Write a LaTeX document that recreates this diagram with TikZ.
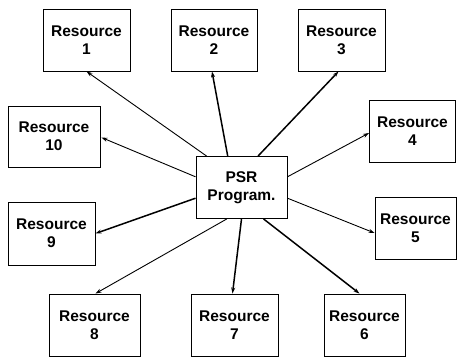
\documentclass[tikz,border=0pt]{standalone}
\usepackage{fontspec}
\setmainfont{Liberation Sans}
\usetikzlibrary{calc,arrows.meta}
\begin{document}
\begin{tikzpicture}[x=1pt,y=-1pt,
  res/.style={draw=black,line width=0.9pt,align=center,inner sep=0pt,
    font=\fontsize{15.5}{18}\selectfont\bfseries,minimum height=62pt},
  thin/.style={line width=0.9pt,-{Stealth[length=6pt,width=4pt]}},
  thick/.style={line width=1.5pt,-{Stealth[length=6pt,width=4pt]}}]
\useasboundingbox (0,0) rectangle (457,356);
\clip (0,0) rectangle (457,356);
\node[res,minimum width=87pt] (r1) at (86.5,40) {Resource\\1};
\node[res,minimum width=86pt] (r2) at (214,40) {Resource\\2};
\node[res,minimum width=87pt] (r3) at (341.5,40) {Resource\\3};
\node[res,minimum width=92pt,minimum height=61pt] (r10) at (54,136.5) {Resource\\10};
\node[res,minimum width=86pt] (r4) at (412.5,131) {Resource\\4};
\node[res,minimum width=91pt,minimum height=62pt] (psr) at (241.5,187.5) {PSR\\Program.};
\node[res,minimum width=87pt,minimum height=63pt] (r9) at (51.5,233.5) {Resource\\9};
\node[res,minimum width=81pt] (r5) at (415.5,228.5) {Resource\\5};
\node[res,minimum width=91pt] (r8) at (94.5,325) {Resource\\8};
\node[res,minimum width=87pt] (r7) at (234.5,325) {Resource\\7};
\node[res,minimum width=81pt] (r6) at (364.5,325) {Resource\\6};
\draw[thin] ($(psr.north west)!0.12!(psr.north east)$) -- (r1.south);
\draw[thick] ($(psr.north west)!0.35!(psr.north east)$) -- ($(r2.south)+(-2,0)$);
\draw[thick] ($(psr.north west)!0.68!(psr.north east)$) -- ($(r3.south)+(-3,0)$);
\draw[thin] ($(psr.north west)!0.33!(psr.south west)$) -- ($(r10.east)+(1,1)$);
\draw[thin] ($(psr.north east)!0.33!(psr.south east)$) -- ($(r4.west)+(0,2)$);
\draw[thick] ($(psr.north west)!0.67!(psr.south west)$) -- (r9.east);
\draw[thin] ($(psr.north east)!0.67!(psr.south east)$) -- ($(r5.west)+(0,4.5)$);
\draw[thin] ($(psr.south west)!0.34!(psr.south east)$) -- ($(r8.north)+(1,0)$);
\draw[thick] ($(psr.south west)!0.5!(psr.south east)$) -- ($(r7.north)+(-2,0)$);
\draw[thick] ($(psr.south west)!0.74!(psr.south east)$) -- ($(r6.north)+(-5,0)$);
\end{tikzpicture}
\end{document}
